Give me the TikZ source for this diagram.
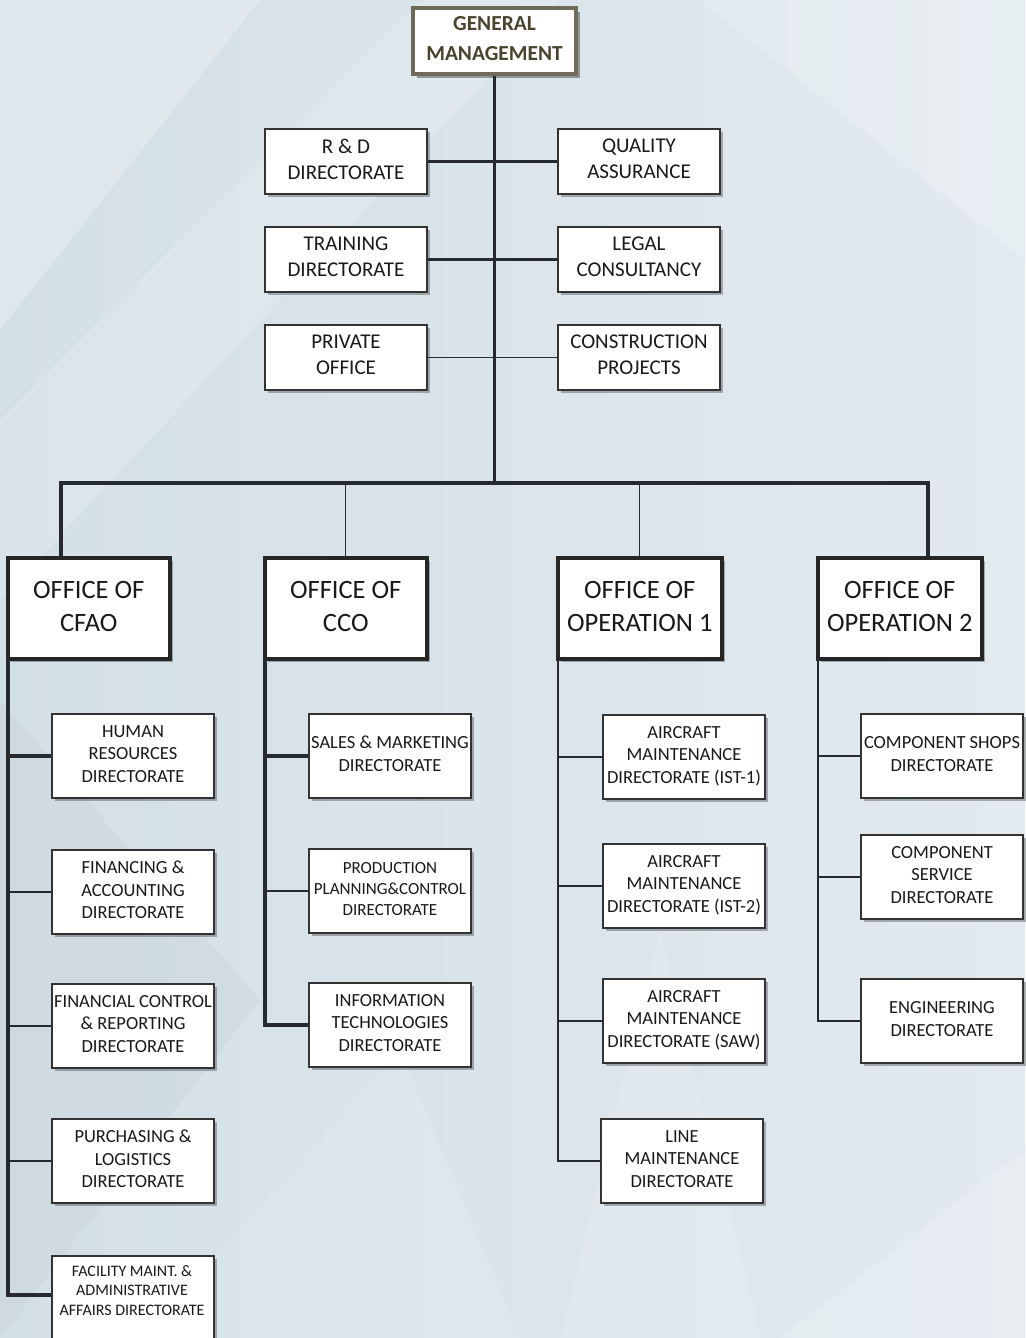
\documentclass[tikz,border=0pt]{standalone}
\usepackage{fontspec}
\setmainfont{Carlito}
\usetikzlibrary{shadows}
\definecolor{bgA}{RGB}{211,223,231}
\definecolor{bgB}{RGB}{226,234,239}
\definecolor{linec}{RGB}{38,42,46}
\definecolor{gmdraw}{RGB}{112,106,90}
\definecolor{gmtext}{RGB}{72,68,45}
\tikzset{
  x=1pt, y=-1pt,
  shad/.style={drop shadow={shadow xshift=3pt, shadow yshift=-3pt, fill=black, opacity=0.28}},
  gmbox/.style={draw=gmdraw, line width=4, fill=white, text=gmtext, align=center, inner sep=0,
    font=\bfseries\fontsize{21.4}{30}\selectfont, minimum width=163, minimum height=66, anchor=north west,
    text depth=6pt, drop shadow={shadow xshift=4pt, shadow yshift=-4pt, fill=black, opacity=0.35}},
  tierbox/.style={draw=black!80, line width=2, fill=white, text=black!90, align=center, inner sep=0,
    font=\fontsize{21}{26}\selectfont, minimum width=162, minimum height=65, anchor=north west, text depth=5pt, shad},
  officebox/.style={draw=black!85, line width=3.5, fill=white, text=black!90, align=center, inner sep=0,
    font=\fontsize{26.5}{33}\selectfont, minimum width=162, minimum height=101, anchor=north west, text depth=4pt, shad},
  subbox/.style={draw=black!80, line width=2, fill=white, text=black!90, align=center, inner sep=0,
    font=\fontsize{18.5}{22.5}\selectfont, minimum width=162, minimum height=84, anchor=north west, text depth=4.5pt, shad},
  lnA/.style={draw=linec, line width=3.2},
  lnB/.style={draw=linec, line width=2.2},
  lnC/.style={draw=linec, line width=1.4},
}
\begin{document}
\begin{tikzpicture}
\useasboundingbox (0,0) rectangle (1025,1338);
% background
\shade[left color=bgA, right color=bgB] (0,0) rectangle (1025,1338);
\fill[white, opacity=0.25] (0,0) -- (260,0) -- (0,330) -- cycle;
\fill[white, opacity=0.18] (0,420) -- (420,0) -- (560,0) -- (0,600) -- cycle;
\fill[white, opacity=0.20] (700,0) -- (1025,0) -- (1025,260) -- cycle;
\fill[white, opacity=0.15] (560,1338) -- (660,930) -- (760,1338) -- cycle;
\fill[white, opacity=0.18] (780,1338) -- (1025,1150) -- (1025,1338) -- cycle;
\fill[black, opacity=0.025] (0,700) -- (260,1000) -- (0,1338) -- cycle;
\fill[white, opacity=0.12] (140,1338) -- (400,1050) -- (520,1338) -- cycle;

% top
\node[gmbox] (gm) at (411,6) {GENERAL\\MANAGEMENT};
\node[tierbox] (rd) at (264,128) {R \& D\\DIRECTORATE};
\node[tierbox] (qa) at (557,128) {QUALITY\\ASSURANCE};
\node[tierbox] (train) at (264,226) {TRAINING\\DIRECTORATE};
\node[tierbox] (legal) at (557,226) {LEGAL\\CONSULTANCY};
\node[tierbox] (priv) at (264,324) {PRIVATE\\OFFICE};
\node[tierbox] (constr) at (557,324) {CONSTRUCTION\\PROJECTS};

% offices
\node[officebox] (cfao) at (6,556) {OFFICE OF\\CFAO};
\node[officebox] (cco) at (263,556) {OFFICE OF\\CCO};
\node[officebox, minimum width=164] (op1) at (556,556) {OFFICE OF\\OPERATION 1};
\node[officebox, minimum width=164] (op2) at (816,556) {OFFICE OF\\OPERATION 2};

% CFAO children
\node[subbox] (hr) at (51,713) {HUMAN\\RESOURCES\\DIRECTORATE};
\node[subbox] (fin) at (51,849) {FINANCING \&\\ACCOUNTING\\DIRECTORATE};
\node[subbox] (fcr) at (51,983) {FINANCIAL CONTROL\\\& REPORTING\\DIRECTORATE};
\node[subbox] (pur) at (51,1118) {PURCHASING \&\\LOGISTICS\\DIRECTORATE};
\node[subbox, minimum height=95] (fac) at (51,1255) {};
\node[font=\fontsize{16}{19.5}\selectfont, align=center, text=black!90, anchor=north] (factext) at (132,1262) {FACILITY MAINT. \&\\ADMINISTRATIVE\\AFFAIRS DIRECTORATE};

% CCO children
\node[subbox] (sales) at (308,713) {SALES \& MARKETING\\DIRECTORATE};
\node[subbox, font=\fontsize{17}{21}\selectfont] (ppc) at (308,848) {PRODUCTION\\PLANNING\&CONTROL\\DIRECTORATE};
\node[subbox] (it) at (308,982) {INFORMATION\\TECHNOLOGIES\\DIRECTORATE};

% OP1 children
\node[subbox] (ist1) at (602,714) {AIRCRAFT\\MAINTENANCE\\DIRECTORATE (IST-1)};
\node[subbox] (ist2) at (602,843) {AIRCRAFT\\MAINTENANCE\\DIRECTORATE (IST-2)};
\node[subbox] (saw) at (602,978) {AIRCRAFT\\MAINTENANCE\\DIRECTORATE (SAW)};
\node[subbox] (line) at (600,1118) {LINE\\MAINTENANCE\\DIRECTORATE};

% OP2 children
\node[subbox] (cshop) at (860,713) {COMPONENT SHOPS\\DIRECTORATE};
\node[subbox] (cserv) at (860,834) {COMPONENT\\SERVICE\\DIRECTORATE};
\node[subbox] (eng) at (860,978) {ENGINEERING\\DIRECTORATE};

% connectors: top
\coordinate (busL) at (61,483);
\coordinate (busR) at (928,483);
\draw[lnA] (gm.south) -- (gm.south |- busL);
\draw[lnA] (rd.east) -- (qa.west);
\draw[lnB] (train.east) -- (legal.west);
\draw[lnC] (priv.east) -- (constr.west);
\draw[lnA, line cap=rect] (busL) -- (busR);
\draw[lnA] (busL) -- (busL |- cfao.north);
\draw[lnC] (cco.north) -- (cco.north |- busL);
\draw[lnC] (op1.north) -- (op1.north |- busL);
\draw[lnA] (busR) -- (busR |- op2.north);

% CFAO spine
\coordinate (cfs) at (8,657);
\draw[draw=linec, line width=3.6, line join=miter] (cfs) -- (cfs |- 0,1295) -- (fac.west |- 0,1295);
\draw[lnA] (hr.west) -- (hr.west -| cfs);
\draw[lnC] (fin.west) -- (fin.west -| cfs);
\draw[lnB] (fcr.west) -- (fcr.west -| cfs);
\draw[lnC] (pur.west) -- (pur.west -| cfs);

% CCO spine
\coordinate (ccs) at (265,657);
\draw[draw=linec, line width=3.6, line join=miter] (ccs) -- (ccs |- it.west) -- (it.west);
\draw[lnA] (sales.west) -- (sales.west -| ccs);
\draw[lnC] (ppc.west) -- (ppc.west -| ccs);

% OP1 spine
\coordinate (o1s) at (558,657);
\draw[draw=linec, line width=2.8, line join=miter] (o1s) -- (o1s |- line.west) -- (line.west);
\draw[lnB] (ist1.west) -- (ist1.west -| o1s);
\draw[lnB] (ist2.west) -- (ist2.west -| o1s);
\draw[lnB] (saw.west) -- (saw.west -| o1s);

% OP2 spine
\coordinate (o2s) at (818,657);
\draw[draw=linec, line width=2.4, line join=miter] (o2s) -- (o2s |- eng.west) -- (eng.west);
\draw[lnB] (cshop.west) -- (cshop.west -| o2s);
\draw[lnC] (cserv.west) -- (cserv.west -| o2s);
\end{tikzpicture}
\end{document}
